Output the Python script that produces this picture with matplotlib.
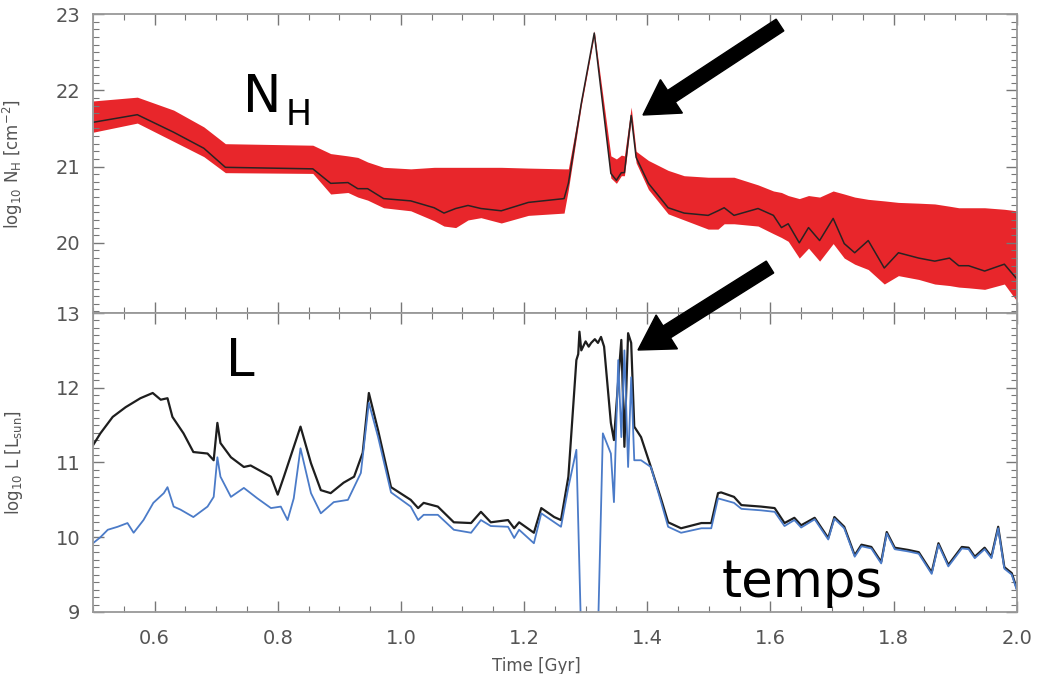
import matplotlib
matplotlib.use('Agg')
import matplotlib.pyplot as plt
from matplotlib.patches import FancyArrow
from matplotlib.ticker import MultipleLocator
from matplotlib.transforms import IdentityTransform

plt.rcParams['font.family'] = ['DejaVu Sans']
plt.rcParams['mathtext.default'] = 'regular'

# top panel: column density, median with spread
time_nh = [0.50, 0.572, 0.631, 0.680, 0.715, 0.857, 0.886, 0.914, 0.930, 0.946,
           0.972, 1.016, 1.054, 1.070, 1.089, 1.109, 1.130, 1.163, 1.207, 1.265,
           1.272, 1.293, 1.314, 1.341, 1.350, 1.358, 1.363, 1.374, 1.382, 1.402,
           1.434, 1.460, 1.499, 1.515, 1.525, 1.541, 1.580, 1.605, 1.618, 1.629,
           1.647, 1.662, 1.680, 1.702, 1.720, 1.737, 1.759, 1.785, 1.808, 1.841,
           1.867, 1.891, 1.906, 1.922, 1.948, 1.980, 2.000]
nh_low = [21.45, 21.57, 21.33, 21.13, 20.92, 20.91, 20.64, 20.66, 20.60, 20.56,
          20.46, 20.42, 20.29, 20.22, 20.20, 20.30, 20.33, 20.26, 20.36, 20.39,
          20.70, 21.80, 22.72, 20.85, 20.78, 20.88, 20.88, 21.62, 21.05, 20.70,
          20.38, 20.30, 20.18, 20.18, 20.25, 20.25, 20.22, 20.12, 20.07, 20.02,
          19.80, 19.93, 19.76, 19.99, 19.80, 19.72, 19.65, 19.46, 19.57, 19.52,
          19.46, 19.44, 19.42, 19.41, 19.39, 19.46, 19.24]
nh_med = [21.58, 21.68, 21.45, 21.24, 20.99, 20.97, 20.78, 20.79, 20.71, 20.71,
          20.58, 20.55, 20.46, 20.39, 20.45, 20.49, 20.45, 20.42, 20.53, 20.58,
          20.78, 21.83, 22.75, 20.91, 20.82, 20.92, 20.92, 21.67, 21.12, 20.78,
          20.46, 20.39, 20.36, 20.42, 20.46, 20.36, 20.45, 20.36, 20.20, 20.25,
          20.00, 20.20, 20.03, 20.32, 19.99, 19.87, 20.03, 19.67, 19.87, 19.80,
          19.76, 19.80, 19.70, 19.70, 19.63, 19.72, 19.53]
nh_high = [21.86, 21.91, 21.74, 21.52, 21.30, 21.28, 21.17, 21.14, 21.12, 21.06,
           20.99, 20.97, 20.99, 20.99, 20.99, 20.99, 20.99, 20.99, 20.98, 20.97,
           20.97, 21.90, 22.78, 21.14, 21.10, 21.15, 21.14, 21.78, 21.20, 21.08,
           20.95, 20.88, 20.86, 20.86, 20.86, 20.86, 20.76, 20.68, 20.66, 20.62,
           20.58, 20.62, 20.60, 20.68, 20.64, 20.60, 20.57, 20.55, 20.53, 20.52,
           20.51, 20.48, 20.46, 20.46, 20.46, 20.44, 20.42]

# bottom panel: luminosity, total (black) and observed (blue)
time_l = [0.500, 0.512, 0.532, 0.553, 0.577, 0.597, 0.610, 0.621, 0.629, 0.647,
          0.663, 0.686, 0.696, 0.702, 0.707, 0.724, 0.745, 0.756, 0.789, 0.800,
          0.810, 0.837, 0.854, 0.870, 0.886, 0.907, 0.924, 0.938, 0.948, 0.963,
          0.984, 1.016, 1.028, 1.037, 1.060, 1.086, 1.114, 1.130, 1.146, 1.174,
          1.184, 1.192, 1.216, 1.228, 1.249, 1.260, 1.272, 1.285, 1.288, 1.290,
          1.293, 1.300, 1.305, 1.309, 1.315, 1.320, 1.325, 1.330, 1.341, 1.346,
          1.353, 1.358, 1.363, 1.369, 1.374, 1.379, 1.390, 1.406, 1.423, 1.434,
          1.455, 1.488, 1.504, 1.515, 1.520, 1.541, 1.553, 1.585, 1.607, 1.623,
          1.639, 1.650, 1.672, 1.694, 1.704, 1.720, 1.737, 1.748, 1.764, 1.780,
          1.789, 1.802, 1.824, 1.841, 1.862, 1.873, 1.889, 1.911, 1.922, 1.932,
          1.948, 1.959, 1.970, 1.980, 1.992, 2.000]
l_total = [11.23, 11.39, 11.61, 11.74, 11.86, 11.93, 11.84, 11.86, 11.61, 11.39,
           11.14, 11.12, 11.03, 11.53, 11.26, 11.07, 10.94, 10.96, 10.81, 10.57,
           10.81, 11.48, 10.99, 10.63, 10.59, 10.73, 10.81, 11.13, 11.93, 11.43,
           10.67, 10.50, 10.39, 10.46, 10.41, 10.20, 10.19, 10.34, 10.20, 10.23,
           10.12, 10.20, 10.06, 10.39, 10.27, 10.23, 10.81, 12.37, 12.45, 12.75,
           12.50, 12.62, 12.55, 12.60, 12.65, 12.60, 12.68, 12.55, 11.53, 11.30,
           12.10, 12.64, 11.21, 12.73, 12.60, 11.48, 11.34, 10.94, 10.50, 10.20,
           10.12, 10.19, 10.19, 10.59, 10.60, 10.54, 10.43, 10.41, 10.39, 10.19,
           10.26, 10.16, 10.26, 9.99, 10.27, 10.14, 9.76, 9.90, 9.87, 9.67,
           10.07, 9.86, 9.83, 9.80, 9.53, 9.92, 9.63, 9.87, 9.86, 9.74,
           9.86, 9.74, 10.14, 9.60, 9.52, 9.32]

time_obs = [0.500, 0.512, 0.524, 0.540, 0.556, 0.566, 0.582, 0.598, 0.615, 0.621,
            0.631, 0.642, 0.663, 0.686, 0.696, 0.702, 0.707, 0.724, 0.745, 0.767,
            0.789, 0.805, 0.816, 0.826, 0.837, 0.854, 0.870, 0.891, 0.914, 0.935,
            0.948, 0.963, 0.984, 1.016, 1.028, 1.037, 1.060, 1.086, 1.114, 1.130,
            1.146, 1.174, 1.184, 1.192, 1.216, 1.228, 1.260, 1.272, 1.285, 1.298,
            1.315, 1.328, 1.341, 1.346, 1.353, 1.358, 1.363, 1.369, 1.374, 1.379,
            1.390, 1.406, 1.423, 1.434, 1.455, 1.488, 1.504, 1.515, 1.541, 1.553,
            1.585, 1.607, 1.623, 1.639, 1.650, 1.672, 1.694, 1.704, 1.720, 1.737,
            1.748, 1.764, 1.780, 1.789, 1.802, 1.824, 1.841, 1.862, 1.873, 1.889,
            1.911, 1.922, 1.932, 1.948, 1.959, 1.970, 1.980, 1.992, 2.000]
l_obs = [9.92, 10.00, 10.10, 10.14, 10.19, 10.06, 10.23, 10.46, 10.59, 10.67,
         10.41, 10.37, 10.27, 10.41, 10.54, 11.07, 10.81, 10.54, 10.66, 10.52,
         10.39, 10.41, 10.23, 10.52, 11.19, 10.59, 10.32, 10.47, 10.50, 10.86,
         11.80, 11.34, 10.60, 10.41, 10.23, 10.30, 10.30, 10.10, 10.06, 10.23,
         10.15, 10.14, 9.99, 10.10, 9.92, 10.32, 10.14, 10.67, 11.17, 7.00,
         7.00, 11.39, 11.12, 10.47, 12.37, 11.34, 12.50, 10.94, 12.14, 11.03,
         11.03, 10.94, 10.46, 10.14, 10.06, 10.12, 10.12, 10.52, 10.46, 10.38,
         10.36, 10.34, 10.15, 10.23, 10.13, 10.24, 9.97, 10.25, 10.12, 9.74,
         9.88, 9.85, 9.65, 10.05, 9.84, 9.81, 9.78, 9.51, 9.90, 9.61,
         9.85, 9.84, 9.72, 9.84, 9.72, 10.12, 9.58, 9.50, 9.30]

fig = plt.figure(figsize=(10.39, 6.74), dpi=100)
ax1 = fig.add_axes([0.0895, 0.5356, 0.889, 0.4436])
ax2 = fig.add_axes([0.0895, 0.092, 0.889, 0.4436])

ax1.fill_between(time_nh, nh_low, nh_high, color='#e8262b', lw=0)
ax1.plot(time_nh, nh_med, color='#2a2222', lw=1.1)

ax2.plot(time_l, l_total, color='#1e1e1e', lw=1.6)
ax2.plot(time_obs, l_obs, color='#4b7bc8', lw=1.3)

ax1.set_ylim(19.08, 23)
ax2.set_ylim(9, 13)

gray = '#777777'
for ax in (ax1, ax2):
    ax.set_xlim(0.5, 2.0)
    ax.xaxis.set_major_locator(MultipleLocator(0.2))
    ax.xaxis.set_minor_locator(MultipleLocator(0.05))
    ax.yaxis.set_major_locator(MultipleLocator(1))
    ax.yaxis.set_minor_locator(MultipleLocator(0.1))
    ax.tick_params(which='both', direction='in', top=True, right=True,
                   color=gray, labelcolor='#555555', labelsize=14)
    ax.tick_params(which='major', length=8, width=1.0)
    ax.tick_params(which='minor', length=4, width=0.8)
    ax.tick_params(axis='x', pad=12)
    ax.tick_params(axis='y', pad=9)
    for s in ax.spines.values():
        s.set_color('#999999')
        s.set_linewidth(1.3)

ax1.tick_params(labelbottom=False)
ax2.set_xticks([0.6, 0.8, 1.0, 1.2, 1.4, 1.6, 1.8, 2.0])
ax2.set_xticklabels(['0.6', '0.8', '1.0', '1.2', '1.4', '1.6', '1.8', '2.0'])

ax1.set_ylabel('log$_{10}$ N$_H$ [cm$^{-2}$]', fontsize=12, color='#555555')
ax2.set_ylabel('log$_{10}$ L [L$_{sun}$]', fontsize=12, color='#555555')
ax1.yaxis.set_label_coords(-0.0736, 0.5)
ax2.yaxis.set_label_coords(-0.0736, 0.5)
ax2.set_xlabel('Time [Gyr]', fontsize=12, color='#555555')
ax2.xaxis.set_label_coords(0.48, -0.15)

# big annotations, placed in figure pixels
fig.text(243, 562, 'N', fontsize=37, transform=IdentityTransform(), va='baseline')
fig.text(286, 549, 'H', fontsize=25, transform=IdentityTransform(), va='baseline')
fig.text(226, 298, 'L', fontsize=37, transform=IdentityTransform(), va='baseline')
fig.text(722, 77, 'temps', fontsize=37, transform=IdentityTransform(), va='baseline')

for x0, y0, x1, y1 in [(780, 649, 643, 559), (770, 407, 638, 324)]:
    arr = FancyArrow(x0, y0, x1 - x0, y1 - y0, width=14, head_width=40,
                     head_length=34, length_includes_head=True,
                     color='black', transform=IdentityTransform())
    fig.add_artist(arr)

fig.savefig('out.png', dpi=100, facecolor='white')
